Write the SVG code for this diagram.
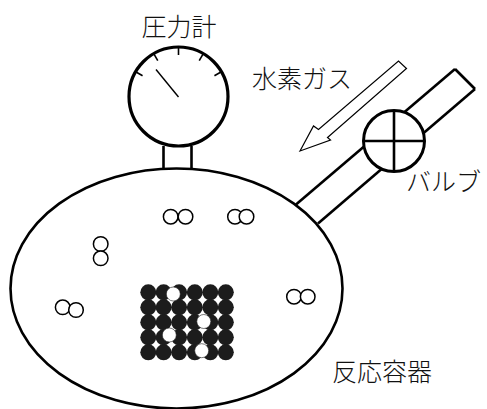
<svg xmlns="http://www.w3.org/2000/svg" width="487" height="409" viewBox="0 0 487 409">
  <style>
    .lbl { font-family: "Noto Sans CJK JP", "Noto Sans CJK SC", sans-serif; font-size: 25px; font-weight: 300; fill: #111; }
    .thick { fill: none; stroke: #000; stroke-width: 2.6; }
    .h2 { fill: #fff; stroke: #000; stroke-width: 1.5; }
    .metal { fill: #1c1c1c; }
    .hatom { fill: #fff; stroke: #1c1c1c; stroke-width: 0.6; }
  </style>
  <rect width="487" height="409" fill="#fff"/>

  <!-- gas inlet pipe (drawn first, valve sits on top) -->
  <g id="pipe">
    <line class="thick" x1="296" y1="204.5" x2="455" y2="69"/>
    <line class="thick" x1="318" y1="223.5" x2="475" y2="89"/>
    <line class="thick" x1="455" y1="69" x2="475" y2="89"/>
  </g>

  <!-- gauge stem -->
  <g id="stem">
    <line class="thick" x1="163.5" y1="146" x2="163.5" y2="170"/>
    <line class="thick" x1="191.5" y1="146" x2="191.5" y2="170"/>
  </g>

  <!-- reaction vessel -->
  <g id="vessel">
    <ellipse class="thick" cx="176.5" cy="288.5" rx="166" ry="120" fill="#fff"/>
  </g>

  <!-- pressure gauge -->
  <g id="gauge">
    <circle cx="178.5" cy="96.5" r="49.5" fill="#fff" stroke="#000" stroke-width="3.2"/>
    <g stroke="#000" stroke-width="1.6">
      <line x1="178.5" y1="47" x2="178.5" y2="55"/>
      <line x1="178.5" y1="47" x2="178.5" y2="55" transform="rotate(-30 178.5 96.5)"/>
      <line x1="178.5" y1="47" x2="178.5" y2="55" transform="rotate(30 178.5 96.5)"/>
      <line x1="178.5" y1="47" x2="178.5" y2="55" transform="rotate(-60 178.5 96.5)"/>
      <line x1="178.5" y1="47" x2="178.5" y2="55" transform="rotate(60 178.5 96.5)"/>
      <line x1="178.5" y1="97" x2="156" y2="69.5" stroke-width="1.4"/>
    </g>
    <text class="lbl" x="179" y="36" text-anchor="middle">圧力計</text>
  </g>

  <!-- valve -->
  <g id="valve">
    <circle cx="394" cy="141" r="30.5" fill="#fff" stroke="#000" stroke-width="3"/>
    <line x1="364" y1="141" x2="424" y2="141" stroke="#000" stroke-width="2.6"/>
    <line x1="394" y1="111" x2="394" y2="171" stroke="#000" stroke-width="2.6"/>
    <text class="lbl" x="406" y="191">バルブ</text>
  </g>

  <!-- hydrogen flow arrow -->
  <g id="gas-arrow">
    <polygon points="300,151 313.5,126 318.5,129.5 398.5,61 406.5,68.5 327.5,137.5 330.5,140" fill="#fff" stroke="#000" stroke-width="1.2" stroke-linejoin="miter"/>
    <text class="lbl" x="252" y="88">水素ガス</text>
  </g>

  <!-- H2 molecules in the gas phase -->
  <g id="molecules">
    <circle class="h2" cx="170.7" cy="216.7" r="7.3"/>
    <circle class="h2" cx="185.5" cy="216.7" r="7.3"/>
    <circle class="h2" cx="235" cy="216.7" r="7.3"/>
    <circle class="h2" cx="246.5" cy="216.7" r="7.3"/>
    <circle class="h2" cx="100.7" cy="244" r="7.3"/>
    <circle class="h2" cx="100.7" cy="258.3" r="7.3"/>
    <circle class="h2" cx="62.7" cy="307.3" r="7.3"/>
    <circle class="h2" cx="76" cy="310" r="7.3"/>
    <circle class="h2" cx="294" cy="296.7" r="7.3"/>
    <circle class="h2" cx="307.7" cy="296.7" r="7.3"/>
  </g>

  <!-- metal lattice with absorbed hydrogen atoms -->
  <g id="metal">
    <g class="metal">
      <circle cx="148.3" cy="292.3" r="8"/><circle cx="163.6" cy="292.3" r="8"/><circle cx="179.1" cy="292.3" r="8"/><circle cx="194.8" cy="292.3" r="8"/><circle cx="210.3" cy="292.3" r="8"/><circle cx="225.8" cy="292.3" r="8"/>
      <circle cx="148.3" cy="307.3" r="8"/><circle cx="163.6" cy="307.3" r="8"/><circle cx="179.1" cy="307.3" r="8"/><circle cx="194.8" cy="307.3" r="8"/><circle cx="210.3" cy="307.3" r="8"/><circle cx="225.8" cy="307.3" r="8"/>
      <circle cx="148.3" cy="322.3" r="8"/><circle cx="163.6" cy="322.3" r="8"/><circle cx="179.1" cy="322.3" r="8"/><circle cx="194.8" cy="322.3" r="8"/><circle cx="210.3" cy="322.3" r="8"/><circle cx="225.8" cy="322.3" r="8"/>
      <circle cx="148.3" cy="337.3" r="8"/><circle cx="163.6" cy="337.3" r="8"/><circle cx="179.1" cy="337.3" r="8"/><circle cx="194.8" cy="337.3" r="8"/><circle cx="210.3" cy="337.3" r="8"/><circle cx="225.8" cy="337.3" r="8"/>
      <circle cx="148.3" cy="352.3" r="8"/><circle cx="163.6" cy="352.3" r="8"/><circle cx="179.1" cy="352.3" r="8"/><circle cx="194.8" cy="352.3" r="8"/><circle cx="210.3" cy="352.3" r="8"/><circle cx="225.8" cy="352.3" r="8"/>
    </g>
    <g class="hatom">
      <circle cx="173.3" cy="294" r="7"/>
      <circle cx="203.8" cy="321.5" r="7"/>
      <circle cx="169.3" cy="335" r="7"/>
      <circle cx="201.7" cy="350.7" r="7"/>
    </g>
  </g>

  <text class="lbl" x="332" y="381">反応容器</text>
</svg>
